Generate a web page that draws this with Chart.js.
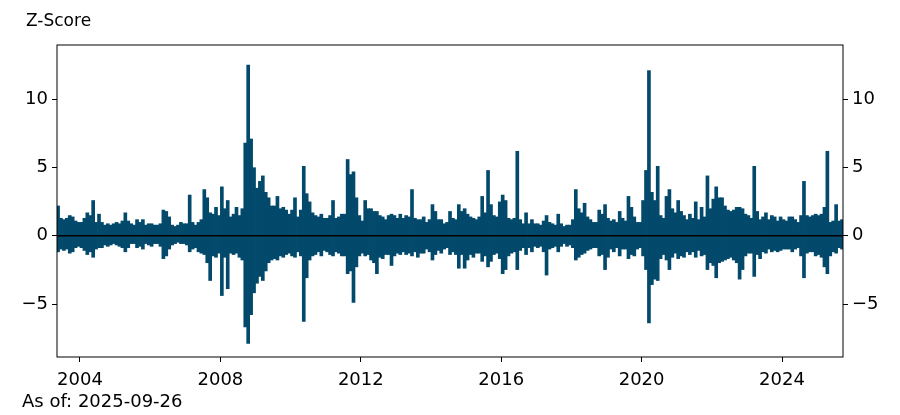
<!DOCTYPE html>
<html>
<head>
    <title>Z-Score</title>
    <script src="https://cdn.jsdelivr.net/npm/chart.js"></script>
    <style>
        body { margin: 0; background: #fff; }
    </style>
</head>
<body>
    <canvas id="zChart" width="900" height="415"></canvas>

    <script>
        // first month of the series (May 2003), one value per month up to Sep 2025
        const firstYear = 2003;
        const firstMonth = 5;

        // monthly highest z-score
        const zHigh = [
            2.2, 1.3, 1.2, 1.3, 1.5, 1.4, 1.1, 1.0,                       // 2003 May-Dec
            1.0, 1.3, 1.7, 1.5, 2.6, 1.0, 1.6, 1.0, 0.8, 0.9, 0.8, 0.9,   // 2004
            1.0, 0.9, 1.1, 1.7, 1.1, 0.9, 0.8, 1.2, 1.0, 1.2, 0.8, 0.9,   // 2005
            0.9, 0.8, 0.8, 0.9, 1.9, 1.8, 1.4, 0.8, 0.7, 0.8, 1.0, 0.9,   // 2006
            0.9, 3.0, 1.0, 0.8, 1.0, 1.2, 3.4, 2.8, 1.7, 1.6, 2.1, 1.5,   // 2007
            3.6, 2.0, 2.6, 1.4, 1.6, 2.1, 1.5, 2.0, 6.8, 12.5, 7.1, 5.0,  // 2008
            3.5, 4.0, 4.4, 3.2, 2.8, 2.2, 2.2, 2.9, 2.0, 2.1, 1.9, 1.6,   // 2009
            1.9, 2.8, 1.4, 1.9, 5.1, 3.1, 2.5, 1.7, 1.5, 1.4, 1.6, 1.3,   // 2010
            1.3, 1.5, 2.6, 1.3, 1.4, 1.6, 1.6, 5.6, 4.5, 4.7, 2.8, 1.5,   // 2011
            1.1, 2.6, 2.0, 2.0, 1.8, 1.8, 1.5, 1.4, 1.2, 1.5, 1.6, 1.5,   // 2012
            1.3, 1.6, 1.3, 1.5, 1.4, 3.4, 1.3, 1.2, 1.2, 1.4, 1.0, 1.2,   // 2013
            2.3, 1.8, 1.2, 1.2, 0.9, 1.0, 1.8, 1.3, 1.2, 2.3, 1.8, 2.0,   // 2014
            1.6, 1.4, 1.3, 1.2, 1.4, 2.9, 1.7, 4.8, 2.3, 1.5, 1.4, 2.5,   // 2015
            3.0, 2.6, 1.3, 1.2, 1.3, 6.2, 1.2, 0.9, 1.7, 0.9, 1.2, 0.9,   // 2016
            0.9, 0.8, 1.1, 1.5, 1.0, 0.9, 0.8, 1.6, 0.9, 0.7, 0.8, 0.8,   // 2017
            1.2, 3.4, 2.0, 1.7, 2.4, 1.4, 1.2, 1.0, 1.0, 1.9, 1.6, 2.3,   // 2018
            1.3, 1.1, 1.2, 1.0, 1.8, 1.3, 1.1, 2.9, 2.1, 1.4, 1.0, 1.0,   // 2019
            2.6, 4.8, 12.1, 3.2, 2.6, 5.1, 1.5, 1.3, 2.9, 3.4, 2.0, 1.7,  // 2020
            2.6, 1.8, 1.5, 1.2, 1.6, 1.3, 2.5, 1.2, 2.1, 1.4, 4.4, 2.0,   // 2021
            2.7, 3.6, 2.8, 2.8, 2.2, 1.9, 1.8, 1.9, 2.1, 2.1, 2.0, 1.6,   // 2022
            1.5, 1.3, 5.1, 1.8, 1.2, 1.4, 1.7, 1.2, 1.5, 1.4, 1.1, 1.4,   // 2023
            1.2, 1.1, 1.4, 1.4, 1.2, 1.0, 1.5, 4.0, 1.5, 1.4, 1.5, 1.6,   // 2024
            1.5, 1.6, 2.1, 6.2, 1.0, 1.1, 2.3, 1.1, 1.2                   // 2025 Jan-Sep
        ];

        // monthly lowest z-score
        const zLow = [
            -1.2, -1.0, -1.1, -1.0, -1.3, -1.2, -0.9, -0.8,
            -0.9, -1.1, -1.4, -1.2, -1.6, -1.0, -0.9, -0.9, -0.7, -0.8, -0.7, -0.6,
            -0.7, -0.8, -0.9, -1.2, -0.9, -0.6, -0.6, -0.9, -0.8, -1.0, -0.6, -0.7,
            -0.8, -0.6, -0.6, -0.8, -1.7, -1.5, -1.0, -0.7, -0.6, -0.5, -0.6, -0.6,
            -0.7, -1.2, -1.0, -0.9, -1.2, -1.3, -1.4, -2.0, -3.3, -1.5, -1.6, -1.3,
            -4.4, -1.6, -3.9, -1.3, -1.4, -1.3, -1.6, -1.8, -6.7, -7.9, -5.8, -4.2,
            -3.5, -3.0, -3.3, -2.6, -2.0, -1.8, -1.7, -1.8, -1.5, -1.6, -1.4, -1.3,
            -1.5, -1.6, -1.2, -1.5, -6.3, -3.1, -1.8, -1.5, -1.4, -1.2, -1.5, -1.1,
            -1.2, -1.4, -1.5, -1.2, -1.3, -1.5, -1.5, -2.8, -2.6, -4.9, -2.3, -1.5,
            -1.3, -1.5, -1.4, -1.8, -2.0, -2.8, -1.6, -1.7, -1.4, -1.4, -2.2, -1.5,
            -1.3, -1.4, -1.2, -1.4, -1.3, -1.5, -1.2, -1.6, -1.3, -1.3, -1.0, -1.2,
            -1.8, -1.4, -1.1, -1.3, -1.0, -0.9, -1.4, -1.2, -1.4, -2.4, -1.4, -2.4,
            -1.8, -1.4, -1.6, -1.3, -1.3, -1.9, -1.5, -2.3, -1.9, -1.4, -1.3, -1.7,
            -2.8, -2.5, -1.5, -1.3, -1.2, -2.5, -1.1, -0.9, -1.4, -0.9, -1.2, -0.8,
            -0.9, -0.8, -1.2, -2.9, -1.0, -0.9, -0.8, -1.2, -0.8, -0.6, -0.8, -0.7,
            -0.9, -1.8, -1.6, -1.4, -1.3, -1.1, -1.0, -0.9, -0.9, -1.5, -1.4, -2.5,
            -1.6, -1.0, -1.2, -0.9, -1.5, -1.0, -1.0, -1.7, -1.4, -1.5, -1.0, -0.9,
            -1.5, -2.5, -6.4, -3.6, -3.2, -3.3, -1.7, -1.4, -1.8, -2.5, -1.6, -1.3,
            -1.7, -1.5, -1.6, -1.2, -1.4, -1.2, -1.6, -1.1, -1.5, -1.4, -2.5, -2.0,
            -2.2, -3.1, -2.0, -1.9, -1.8, -1.7, -1.6, -1.8, -2.0, -3.2, -2.5, -1.5,
            -1.3, -1.3, -3.0, -1.4, -1.7, -1.2, -1.3, -1.0, -1.2, -1.1, -1.2, -1.1,
            -1.0, -1.0, -1.0, -1.2, -1.0, -0.9, -1.5, -3.1, -1.3, -1.2, -1.2, -1.5,
            -1.4, -1.6, -2.3, -2.8, -1.5, -1.2, -1.3, -0.9, -1.0
        ];

        const yTicks = [-5, 0, 5, 10];
        const xTicks = [2004, 2008, 2012, 2016, 2020, 2024];
        const asOf = '2025-09-26';

        const lineColor = '#02496b';
        const fontFamily = "'DejaVu Sans', sans-serif";

        // month centres as decimal years
        const points = zHigh.map((hi, i) => {
            const m = firstMonth - 1 + i;
            const x = firstYear + Math.floor(m / 12) + (m % 12) / 12 + 1 / 24;
            return { x: x, y: [zLow[i], hi] };
        });

        const tickFont = { family: fontFamily, size: 18 };
        const minus = v => String(v).replace('-', '\u2212');

        const framePlugin = {
            id: 'frame',
            afterDatasetsDraw(chart) {
                const { ctx, chartArea: a, scales } = chart;
                ctx.save();
                // zero line
                const y0 = scales.y.getPixelForValue(0);
                ctx.strokeStyle = '#000';
                ctx.lineWidth = 1.6;
                ctx.beginPath();
                ctx.moveTo(a.left, y0);
                ctx.lineTo(a.right, y0);
                ctx.stroke();
                // box round the plot
                ctx.lineWidth = 1;
                ctx.strokeRect(a.left, a.top, a.right - a.left, a.bottom - a.top);
                ctx.restore();
            },
            afterDraw(chart) {
                const ctx = chart.ctx;
                ctx.save();
                ctx.fillStyle = '#000';
                ctx.textBaseline = 'alphabetic';
                ctx.textAlign = 'left';
                ctx.font = '17px ' + fontFamily;
                ctx.fillText('Z-Score', 26, 26);
                ctx.font = '18px ' + fontFamily;
                ctx.fillText('As of: ' + asOf, 22, 407);
                ctx.restore();
            }
        };

        const axisGrid = {
            drawOnChartArea: false,
            drawTicks: true,
            tickLength: 5,
            color: '#000',
            lineWidth: 1
        };

        const ctx = document.getElementById('zChart').getContext('2d');
        new Chart(ctx, {
            type: 'bar',
            data: {
                datasets: [{
                    data: points,
                    backgroundColor: lineColor,
                    borderWidth: 0,
                    barPercentage: 1.25,
                    categoryPercentage: 1
                }]
            },
            options: {
                responsive: false,
                animation: false,
                layout: { padding: { top: 45, left: 0, right: 0, bottom: 0 } },
                plugins: {
                    legend: { display: false },
                    tooltip: { enabled: false }
                },
                scales: {
                    x: {
                        type: 'linear',
                        min: 2003.345,
                        max: 2025.737,
                        offset: false,
                        grid: Object.assign({ offset: false }, axisGrid),
                        border: { display: false },
                        afterBuildTicks: s => { s.ticks = xTicks.map(v => ({ value: v })); },
                        ticks: {
                            color: '#000',
                            font: tickFont,
                            padding: 8,
                            maxRotation: 0,
                            autoSkip: false,
                            callback: v => String(v)
                        },
                        afterFit: s => { s.height = 58; }
                    },
                    y: {
                        position: 'left',
                        min: -8.87,
                        max: 13.95,
                        grid: axisGrid,
                        border: { display: false },
                        afterBuildTicks: s => { s.ticks = yTicks.map(v => ({ value: v })); },
                        ticks: { color: '#000', font: tickFont, padding: 4, callback: minus },
                        afterFit: s => { s.width = 57; }
                    },
                    y2: {
                        position: 'right',
                        min: -8.87,
                        max: 13.95,
                        grid: axisGrid,
                        border: { display: false },
                        afterBuildTicks: s => { s.ticks = yTicks.map(v => ({ value: v })); },
                        ticks: { color: '#000', font: tickFont, padding: 4, callback: minus },
                        afterFit: s => { s.width = 57; }
                    }
                }
            },
            plugins: [framePlugin]
        });
    </script>
</body>
</html>
